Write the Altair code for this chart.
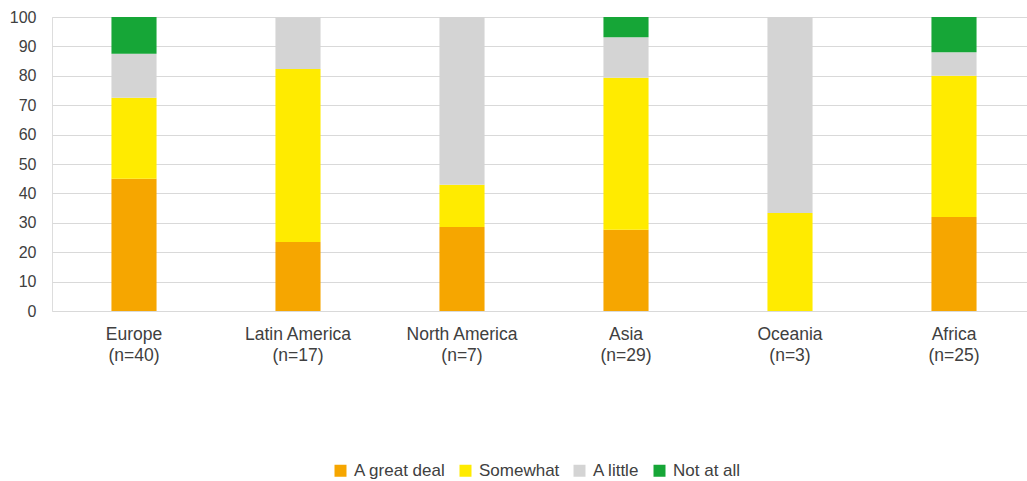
import altair as alt
import pandas as pd

# Regions and sample sizes shown on the x axis
regions = ["Europe", "Latin America", "North America", "Asia", "Oceania", "Africa"]
sample_sizes = [40, 17, 7, 29, 3, 25]

# Response categories, bottom to top in each stack
categories = ["A great deal", "Somewhat", "A little", "Not at all"]
colors = ["#f6a600", "#ffeb00", "#d4d4d4", "#16a637"]

# Share of respondents (%) per category, one value per region
great_deal = [45.0, 23.5, 28.6, 27.6, 0.0, 32.0]
somewhat = [27.5, 58.8, 14.3, 51.7, 33.3, 48.0]
a_little = [15.0, 17.6, 57.1, 13.8, 66.7, 8.0]
not_at_all = [12.5, 0.0, 0.0, 6.9, 0.0, 12.0]

series = [great_deal, somewhat, a_little, not_at_all]
labels = [f"{r}\n(n={n})" for r, n in zip(regions, sample_sizes)]

rows = []
for ci, (cat, vals) in enumerate(zip(categories, series)):
    for label, v in zip(labels, vals):
        rows.append({"region": label, "category": cat, "order": ci, "value": v})
df = pd.DataFrame(rows)

FONT = "Liberation Sans"
TEXT = "#404040"

chart = (
    alt.Chart(df)
    .mark_bar()
    .encode(
        x=alt.X(
            "region:N",
            sort=labels,
            title=None,
            scale=alt.Scale(range=[0, 984], paddingInner=0.725, paddingOuter=0.3625),
            axis=alt.Axis(
                labelAngle=0,
                domain=False,
                ticks=False,
                labelPadding=14,
                labelExpr="split(datum.label, '\\n')",
                labelFontSize=17.5,
                labelLineHeight=21,
                labelColor=TEXT,
                labelFont=FONT,
            ),
        ),
        y=alt.Y(
            "value:Q",
            stack="zero",
            title=None,
            scale=alt.Scale(domain=[0, 100], nice=False),
            axis=alt.Axis(
                values=list(range(0, 101, 10)),
                domain=False,
                ticks=False,
                labelPadding=16,
                labelFontSize=16,
                labelColor=TEXT,
                labelFont=FONT,
                gridColor="#d9d9d9",
                gridWidth=1.2,
            ),
        ),
        color=alt.Color(
            "category:N",
            sort=categories,
            scale=alt.Scale(domain=categories, range=colors),
            legend=alt.Legend(
                title=None,
                orient="none",
                direction="horizontal",
                legendX=280,
                legendY=445,
                symbolType="square",
                symbolSize=144,
                symbolStrokeWidth=0,
                labelFontSize=17,
                labelColor=TEXT,
                labelFont=FONT,
                labelOffset=5,
                columnPadding=11,
            ),
        ),
        order=alt.Order("order:Q", sort="ascending"),
    )
    .properties(
        width=975,
        height=294,
        autosize=alt.AutoSizeParams(type="none"),
        padding={"left": 52, "top": 17, "right": 0, "bottom": 170},
    )
    .configure_view(stroke=None)
    .configure(background="white")
)

chart.save("out.html", embed_options={"renderer": "svg", "actions": False})
